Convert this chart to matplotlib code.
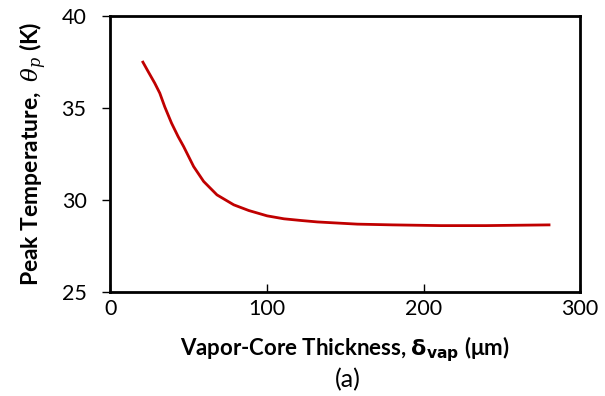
import numpy as np
import matplotlib.pyplot as plt

plt.rcParams['font.family'] = ['Lato', 'DejaVu Sans']

# curve
thickness = [20.5, 24.3, 28.5, 31.7, 34.9, 39.2, 43.4, 46.9, 53.3, 59.7, 68.2, 78.9,
             88.5, 100.2, 110.9, 121.6, 132.2, 142.8, 157.8, 180, 211, 240, 260, 281]
peak_temp = [37.55, 36.97, 36.34, 35.80, 35.05, 34.17, 33.44, 32.90, 31.81, 31.0, 30.27, 29.73,
             29.42, 29.13, 28.97, 28.88, 28.80, 28.75, 28.68, 28.64, 28.60, 28.60, 28.62, 28.64]

fig = plt.figure(figsize=(6.05, 3.96), dpi=100)
ax = fig.add_axes([0.182, 0.263, 0.777, 0.697])

ax.plot(thickness, peak_temp, color='#C00000', lw=2.0, solid_capstyle='butt',
        solid_joinstyle='round')

ax.set_xlim(0, 300)
ax.set_ylim(25, 40)
ax.set_xticks([0, 100, 200, 300])
ax.set_yticks([25, 30, 35, 40])
ax.tick_params(axis='x', direction='in', length=5.5, width=1, labelsize=15.5, pad=5)
ax.tick_params(axis='y', direction='out', length=6, width=1, labelsize=15.5, pad=11)
for s in ax.spines.values():
    s.set_linewidth(2)

ax.set_ylabel(r'Peak Temperature,  $\theta_p$ (K)', fontsize=16.5, fontweight='bold',
              labelpad=9, math_fontfamily='dejavuserif')
ax.set_xlabel(r'Vapor-Core Thickness, $\mathbf{\delta_{vap}}$ (μm)', fontsize=16,
              fontweight='bold', labelpad=11, math_fontfamily='dejavusans')
fig.text(0.575, 0.022, '(a)', fontsize=18, ha='center')

fig.savefig('out.png', dpi=100)
